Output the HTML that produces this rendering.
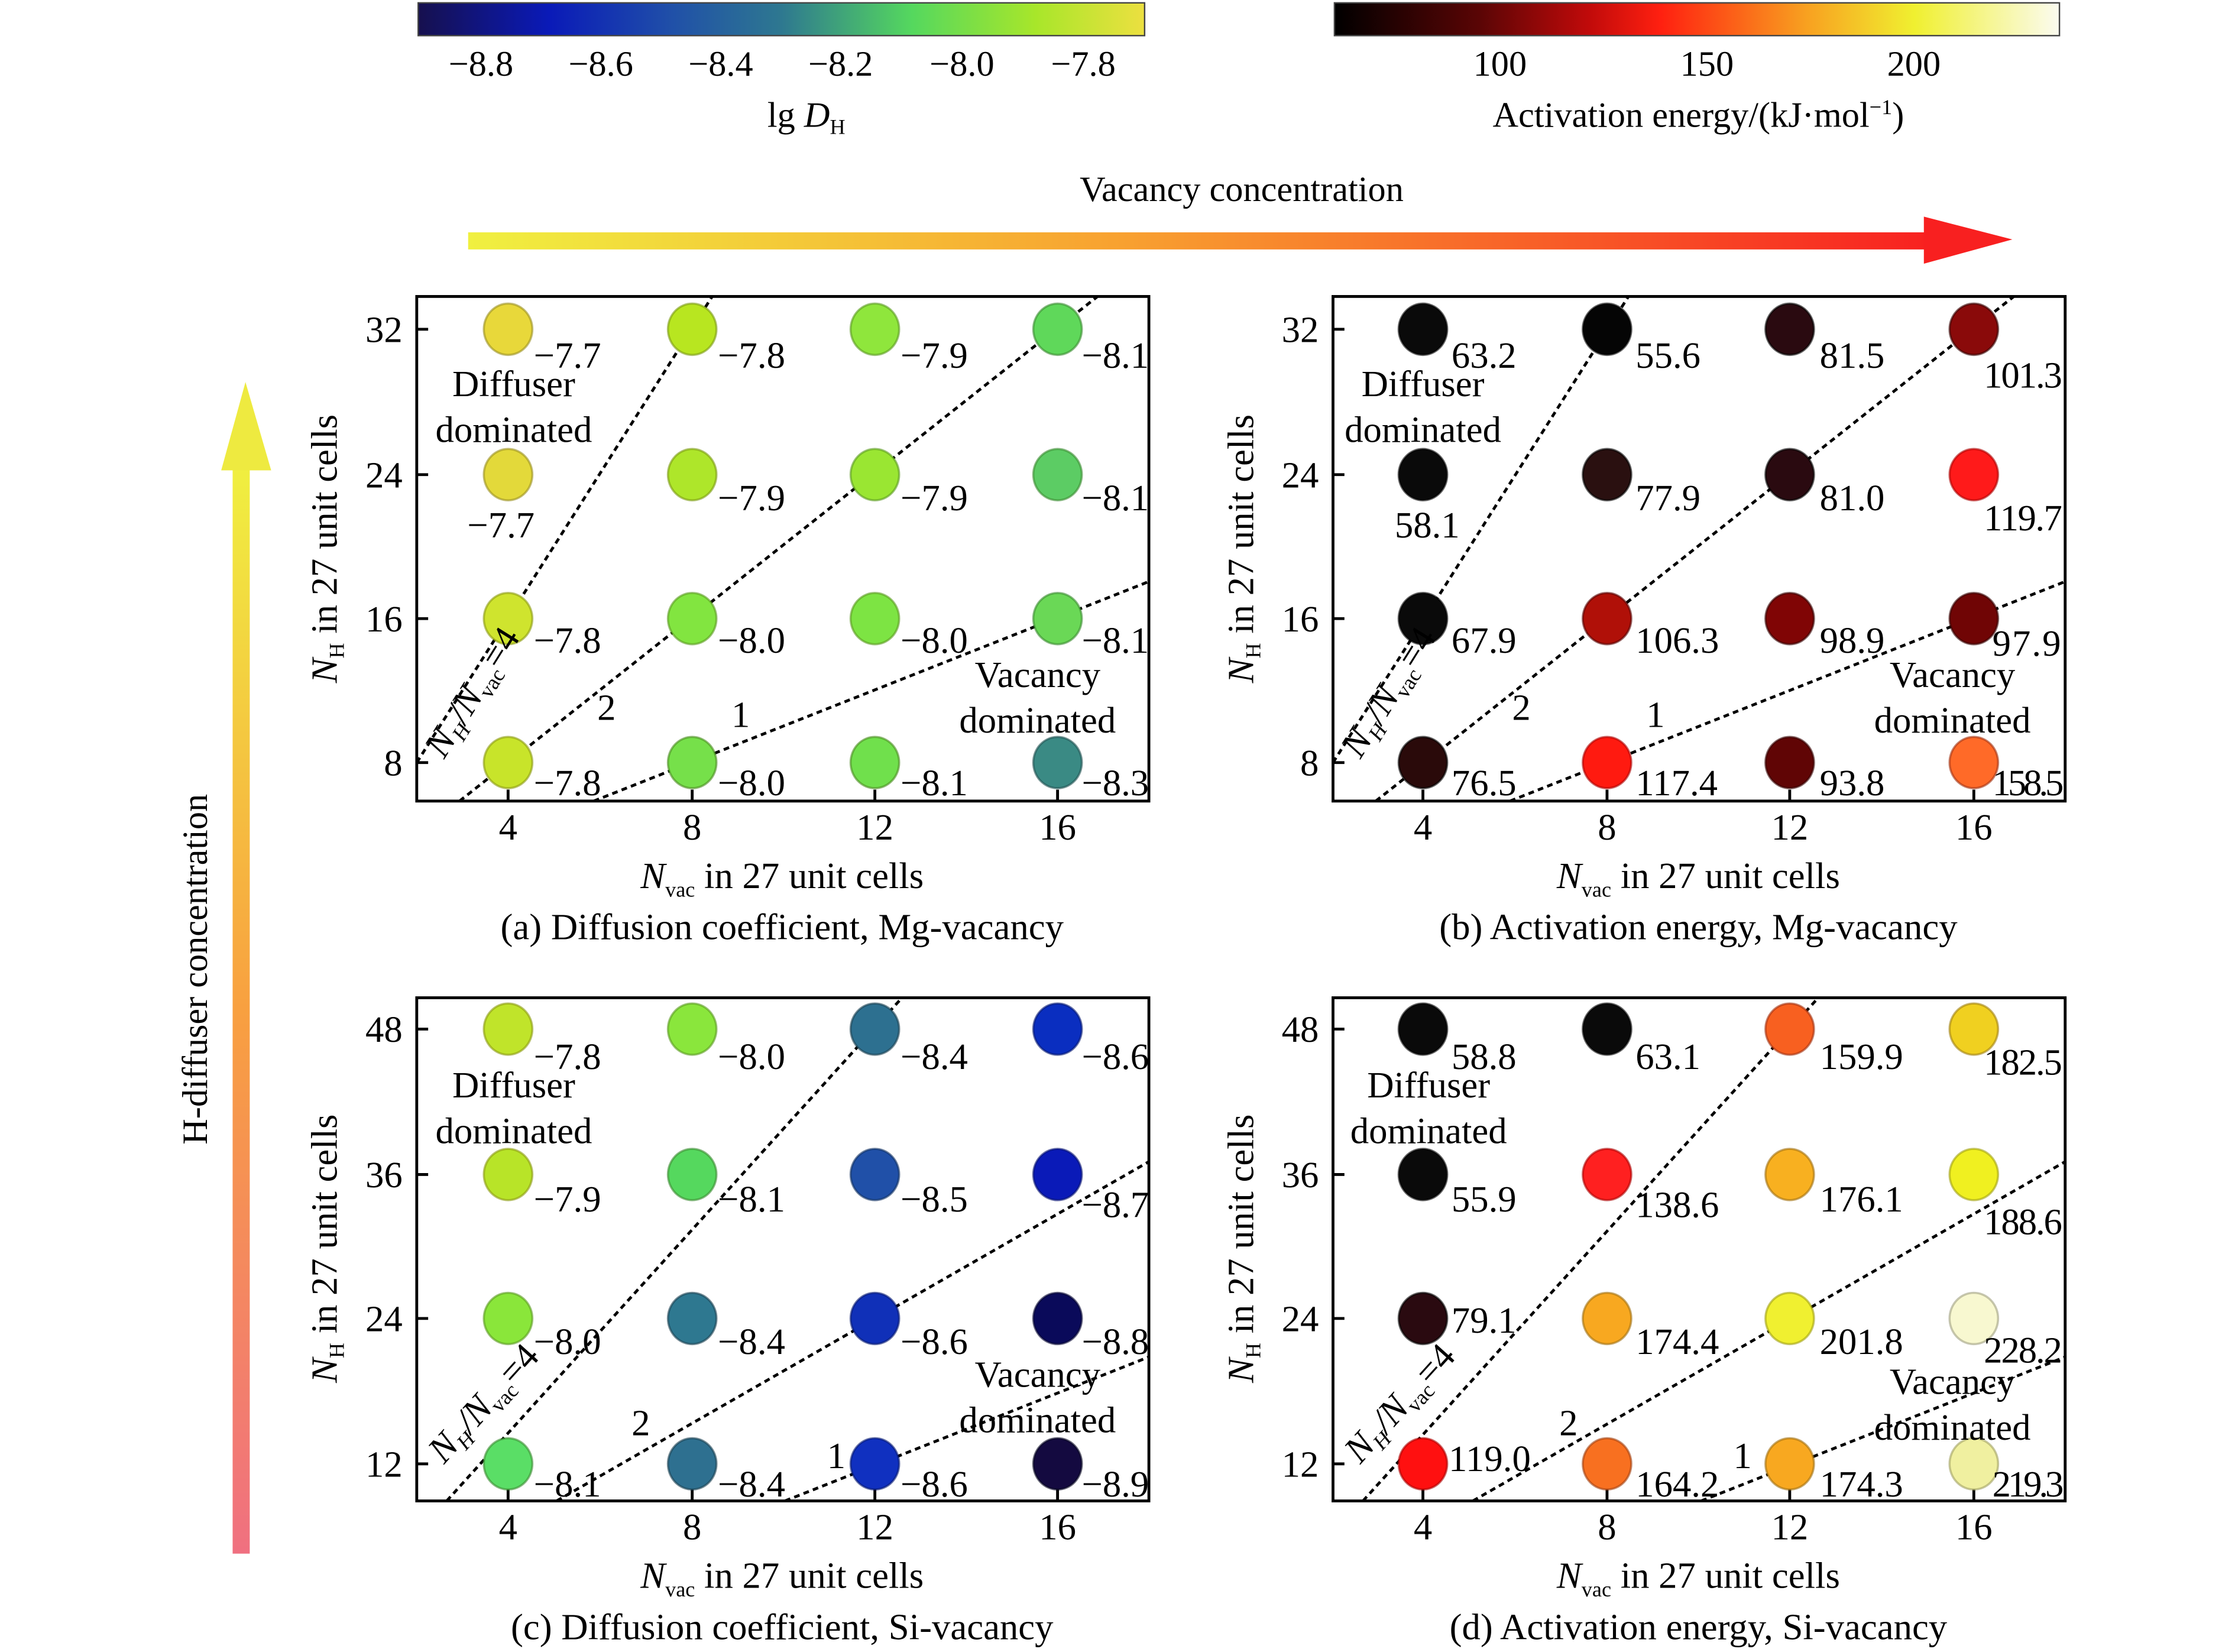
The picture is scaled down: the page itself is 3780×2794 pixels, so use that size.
<!DOCTYPE html>
<html><head><meta charset="utf-8"><style>
html,body{margin:0;padding:0;background:#fff;}
svg{display:block;}
text{font-family:"Liberation Serif",serif;fill:#000;}
</style></head><body>
<svg width="3780" height="2794" viewBox="0 0 1566 1159" preserveAspectRatio="none" xmlns="http://www.w3.org/2000/svg">
<defs>
<linearGradient id="cb1" x1="0" x2="1" y1="0" y2="0">
<stop offset="0" stop-color="#16104e"/><stop offset="0.18" stop-color="#0a1ab8"/><stop offset="0.35" stop-color="#2050a8"/><stop offset="0.5" stop-color="#2e7890"/><stop offset="0.68" stop-color="#55d85e"/><stop offset="0.85" stop-color="#a8e62a"/><stop offset="1" stop-color="#ece040"/>
</linearGradient>
<linearGradient id="cb2" x1="0" x2="1" y1="0" y2="0">
<stop offset="0" stop-color="#000"/><stop offset="0.2" stop-color="#5a0505"/><stop offset="0.35" stop-color="#c00a0a"/><stop offset="0.45" stop-color="#ff2010"/><stop offset="0.65" stop-color="#f8a020"/><stop offset="0.8" stop-color="#f0f030"/><stop offset="1" stop-color="#fbfbf0"/>
</linearGradient>
<linearGradient id="ah" x1="0" x2="1" y1="0" y2="0">
<stop offset="0" stop-color="#f0f040"/><stop offset="0.45" stop-color="#f8a030"/><stop offset="1" stop-color="#f82020"/>
</linearGradient>
<linearGradient id="av" x1="0" x2="0" y1="1" y2="0">
<stop offset="0" stop-color="#f07080"/><stop offset="0.5" stop-color="#f8a040"/><stop offset="1" stop-color="#f0f040"/>
</linearGradient>
<clipPath id="ca"><rect x="292" y="208" width="513" height="354"/></clipPath>
<clipPath id="cb"><rect x="934" y="208" width="513" height="354"/></clipPath>
<clipPath id="cc"><rect x="292" y="700" width="513" height="353"/></clipPath>
<clipPath id="cd"><rect x="934" y="700" width="513" height="353"/></clipPath>
</defs>

<rect x="293" y="2" width="509" height="23" fill="url(#cb1)" stroke="#444" stroke-width="1"/>
<g font-size="25" text-anchor="middle">
<text x="337" y="53">−8.8</text><text x="421" y="53">−8.6</text><text x="505" y="53">−8.4</text><text x="589" y="53">−8.2</text><text x="674" y="53">−8.0</text><text x="759" y="53">−7.8</text>
<text x="565" y="89">lg <tspan font-style="italic">D</tspan><tspan font-size="15" dy="5">H</tspan></text>
</g>
<rect x="935" y="2" width="508" height="23" fill="url(#cb2)" stroke="#444" stroke-width="1"/>
<g font-size="25" text-anchor="middle">
<text x="1051" y="53">100</text><text x="1196" y="53">150</text><text x="1341" y="53">200</text>
<text x="1190" y="89">Activation energy/(kJ·mol<tspan font-size="15" dy="-9">−1</tspan><tspan dy="9">)</tspan></text>
</g>

<text x="870" y="141" font-size="25" text-anchor="middle">Vacancy concentration</text>
<rect x="328" y="163" width="1030" height="12" fill="url(#ah)"/>
<polygon points="1348,152 1410,168 1348,185" fill="#f82020"/>
<rect x="163" y="325" width="12" height="765" fill="url(#av)"/>
<polygon points="155,330 172,268 190,330" fill="#eeea40"/>
<text transform="translate(145,680) rotate(-90)" font-size="25" text-anchor="middle">H-diffuser concentration</text>

<g fill="none" stroke="#000" stroke-width="2">
<rect x="292" y="208" width="513" height="354"/>
<rect x="934" y="208" width="513" height="354"/>
<rect x="292" y="700" width="513" height="353"/>
<rect x="934" y="700" width="513" height="353"/>
</g>
<g stroke="#000" stroke-width="2">
<path d="M356 562v-8M485 562v-8M613 562v-8M741 562v-8M997 562v-8M1126 562v-8M1254 562v-8M1383 562v-8"/>
<path d="M356 1053v-8M485 1053v-8M613 1053v-8M741 1053v-8M997 1053v-8M1126 1053v-8M1254 1053v-8M1383 1053v-8"/>
<path d="M292 231h8M292 333h8M292 434h8M292 535h8M934 231h8M934 333h8M934 434h8M934 535h8"/>
<path d="M292 722h8M292 824h8M292 925h8M292 1027h8M934 722h8M934 824h8M934 925h8M934 1027h8"/>
</g>

<g fill="none" stroke="#000" stroke-width="2" stroke-dasharray="4,3">
<g clip-path="url(#ca)"><path d="M292 535L499 208M322 562L769 208M416 562L805 408"/></g>
<g clip-path="url(#cb)"><path d="M934 535L1141 208M964 562L1411 208M1058 562L1447 408"/></g>
<g clip-path="url(#cc)"><path d="M313 1053L632 700M390 1053L805 815M550 1053L805 952"/></g>
<g clip-path="url(#cd)"><path d="M955 1053L1274 700M1032 1053L1447 815M1192 1053L1447 952"/></g>
</g>

<g stroke-width="1.5" stroke-opacity="0.6">
<ellipse cx="356" cy="231" rx="17" ry="18" fill="#e8d83a" stroke="#9a9020"/>
<ellipse cx="485" cy="231" rx="17" ry="18" fill="#b8e620" stroke="#7a9a10"/>
<ellipse cx="613" cy="231" rx="17" ry="18" fill="#8fe63c" stroke="#5a9a20"/>
<ellipse cx="741" cy="231" rx="17" ry="18" fill="#5fd85a" stroke="#3a8a30"/>
<ellipse cx="356" cy="333" rx="17" ry="18" fill="#e3d93a" stroke="#9a9020"/>
<ellipse cx="485" cy="333" rx="17" ry="18" fill="#aee62a" stroke="#7a9a10"/>
<ellipse cx="613" cy="333" rx="17" ry="18" fill="#9ae632" stroke="#5a9a20"/>
<ellipse cx="741" cy="333" rx="17" ry="18" fill="#5ccc64" stroke="#3a8a30"/>
<ellipse cx="356" cy="434" rx="17" ry="18" fill="#cfe42e" stroke="#8a9a10"/>
<ellipse cx="485" cy="434" rx="17" ry="18" fill="#82e540" stroke="#5a9a20"/>
<ellipse cx="613" cy="434" rx="17" ry="18" fill="#7de443" stroke="#5a9a20"/>
<ellipse cx="741" cy="434" rx="17" ry="18" fill="#6ad856" stroke="#3a8a30"/>
<ellipse cx="356" cy="535" rx="17" ry="18" fill="#c8e42a" stroke="#8a9a10"/>
<ellipse cx="485" cy="535" rx="17" ry="18" fill="#76e04a" stroke="#4a8a20"/>
<ellipse cx="613" cy="535" rx="17" ry="18" fill="#70e04c" stroke="#4a8a20"/>
<ellipse cx="741" cy="535" rx="17" ry="18" fill="#3a8a84" stroke="#205050"/>
<ellipse cx="997" cy="231" rx="17" ry="18" fill="#0a0a0a" stroke="#000"/>
<ellipse cx="1126" cy="231" rx="17" ry="18" fill="#050505" stroke="#000"/>
<ellipse cx="1254" cy="231" rx="17" ry="18" fill="#2a0a10" stroke="#000"/>
<ellipse cx="1383" cy="231" rx="17" ry="18" fill="#8a0a0a" stroke="#300"/>
<ellipse cx="997" cy="333" rx="17" ry="18" fill="#0a0a0a" stroke="#000"/>
<ellipse cx="1126" cy="333" rx="17" ry="18" fill="#2a1010" stroke="#000"/>
<ellipse cx="1254" cy="333" rx="17" ry="18" fill="#2a0a10" stroke="#000"/>
<ellipse cx="1383" cy="333" rx="17" ry="18" fill="#ff1a1a" stroke="#a00"/>
<ellipse cx="997" cy="434" rx="17" ry="18" fill="#0a0a0a" stroke="#000"/>
<ellipse cx="1126" cy="434" rx="17" ry="18" fill="#b01008" stroke="#500"/>
<ellipse cx="1254" cy="434" rx="17" ry="18" fill="#800505" stroke="#300"/>
<ellipse cx="1383" cy="434" rx="17" ry="18" fill="#700505" stroke="#300"/>
<ellipse cx="997" cy="535" rx="17" ry="18" fill="#2a0a0a" stroke="#000"/>
<ellipse cx="1126" cy="535" rx="17" ry="18" fill="#ff1a10" stroke="#a00"/>
<ellipse cx="1254" cy="535" rx="17" ry="18" fill="#600505" stroke="#300"/>
<ellipse cx="1383" cy="535" rx="17" ry="18" fill="#ff6a28" stroke="#a03010"/>
<ellipse cx="356" cy="722" rx="17" ry="18" fill="#c0e42a" stroke="#8a9a10"/>
<ellipse cx="485" cy="722" rx="17" ry="18" fill="#8ae63c" stroke="#5a9a20"/>
<ellipse cx="613" cy="722" rx="17" ry="18" fill="#2d7090" stroke="#1a4050"/>
<ellipse cx="741" cy="722" rx="17" ry="18" fill="#0a2ec0" stroke="#051870"/>
<ellipse cx="356" cy="824" rx="17" ry="18" fill="#b8e428" stroke="#8a9a10"/>
<ellipse cx="485" cy="824" rx="17" ry="18" fill="#55d85e" stroke="#3a8a30"/>
<ellipse cx="613" cy="824" rx="17" ry="18" fill="#2050a8" stroke="#103060"/>
<ellipse cx="741" cy="824" rx="17" ry="18" fill="#0a1ab8" stroke="#051070"/>
<ellipse cx="356" cy="925" rx="17" ry="18" fill="#8ae63a" stroke="#5a9a20"/>
<ellipse cx="485" cy="925" rx="17" ry="18" fill="#2e7890" stroke="#1a4050"/>
<ellipse cx="613" cy="925" rx="17" ry="18" fill="#1030b8" stroke="#051870"/>
<ellipse cx="741" cy="925" rx="17" ry="18" fill="#0a0a5a" stroke="#050530"/>
<ellipse cx="356" cy="1027" rx="17" ry="18" fill="#5ade66" stroke="#3a8a30"/>
<ellipse cx="485" cy="1027" rx="17" ry="18" fill="#2e7090" stroke="#1a4050"/>
<ellipse cx="613" cy="1027" rx="17" ry="18" fill="#1030c0" stroke="#051870"/>
<ellipse cx="741" cy="1027" rx="17" ry="18" fill="#140a40" stroke="#050520"/>
<ellipse cx="997" cy="722" rx="17" ry="18" fill="#0a0a0a" stroke="#000"/>
<ellipse cx="1126" cy="722" rx="17" ry="18" fill="#0a0a0a" stroke="#000"/>
<ellipse cx="1254" cy="722" rx="17" ry="18" fill="#f86020" stroke="#a03010"/>
<ellipse cx="1383" cy="722" rx="17" ry="18" fill="#f0d020" stroke="#a08010"/>
<ellipse cx="997" cy="824" rx="17" ry="18" fill="#0a0a0a" stroke="#000"/>
<ellipse cx="1126" cy="824" rx="17" ry="18" fill="#ff2020" stroke="#a00"/>
<ellipse cx="1254" cy="824" rx="17" ry="18" fill="#f8b020" stroke="#a07010"/>
<ellipse cx="1383" cy="824" rx="17" ry="18" fill="#f0f020" stroke="#a0a010"/>
<ellipse cx="997" cy="925" rx="17" ry="18" fill="#2a0a10" stroke="#000"/>
<ellipse cx="1126" cy="925" rx="17" ry="18" fill="#f8a820" stroke="#a07010"/>
<ellipse cx="1254" cy="925" rx="17" ry="18" fill="#f0f030" stroke="#a0a010"/>
<ellipse cx="1383" cy="925" rx="17" ry="18" fill="#f8f8d0" stroke="#a0a080"/>
<ellipse cx="997" cy="1027" rx="17" ry="18" fill="#ff1010" stroke="#a00"/>
<ellipse cx="1126" cy="1027" rx="17" ry="18" fill="#f87020" stroke="#a04010"/>
<ellipse cx="1254" cy="1027" rx="17" ry="18" fill="#f8a820" stroke="#a07010"/>
<ellipse cx="1383" cy="1027" rx="17" ry="18" fill="#f0f0a0" stroke="#a0a060"/>
</g>

<g font-size="26">
<g text-anchor="middle">
<text x="356" y="589">4</text><text x="485" y="589">8</text><text x="613" y="589">12</text><text x="741" y="589">16</text>
<text x="997" y="589">4</text><text x="1126" y="589">8</text><text x="1254" y="589">12</text><text x="1383" y="589">16</text>
<text x="356" y="1080">4</text><text x="485" y="1080">8</text><text x="613" y="1080">12</text><text x="741" y="1080">16</text>
<text x="997" y="1080">4</text><text x="1126" y="1080">8</text><text x="1254" y="1080">12</text><text x="1383" y="1080">16</text>
</g>
<g text-anchor="end">
<text x="282" y="240">32</text><text x="282" y="342">24</text><text x="282" y="443">16</text><text x="282" y="544">8</text>
<text x="924" y="240">32</text><text x="924" y="342">24</text><text x="924" y="443">16</text><text x="924" y="544">8</text>
<text x="282" y="731">48</text><text x="282" y="833">36</text><text x="282" y="934">24</text><text x="282" y="1036">12</text>
<text x="924" y="731">48</text><text x="924" y="833">36</text><text x="924" y="934">24</text><text x="924" y="1036">12</text>
</g>
<g text-anchor="middle">
<text transform="translate(236,385) rotate(-90)"><tspan font-style="italic">N</tspan><tspan font-size="15" dy="5">H</tspan><tspan dy="-5"> in 27 unit cells</tspan></text>
<text transform="translate(878,385) rotate(-90)"><tspan font-style="italic">N</tspan><tspan font-size="15" dy="5">H</tspan><tspan dy="-5"> in 27 unit cells</tspan></text>
<text transform="translate(236,876) rotate(-90)"><tspan font-style="italic">N</tspan><tspan font-size="15" dy="5">H</tspan><tspan dy="-5"> in 27 unit cells</tspan></text>
<text transform="translate(878,876) rotate(-90)"><tspan font-style="italic">N</tspan><tspan font-size="15" dy="5">H</tspan><tspan dy="-5"> in 27 unit cells</tspan></text>
<text x="548" y="623"><tspan font-style="italic">N</tspan><tspan font-size="15" dy="6">vac</tspan><tspan dy="-6"> in 27 unit cells</tspan></text>
<text x="1190" y="623"><tspan font-style="italic">N</tspan><tspan font-size="15" dy="6">vac</tspan><tspan dy="-6"> in 27 unit cells</tspan></text>
<text x="548" y="1114"><tspan font-style="italic">N</tspan><tspan font-size="15" dy="6">vac</tspan><tspan dy="-6"> in 27 unit cells</tspan></text>
<text x="1190" y="1114"><tspan font-style="italic">N</tspan><tspan font-size="15" dy="6">vac</tspan><tspan dy="-6"> in 27 unit cells</tspan></text>
<text x="548" y="659">(a) Diffusion coefficient, Mg-vacancy</text>
<text x="1190" y="659">(b) Activation energy, Mg-vacancy</text>
<text x="548" y="1150">(c) Diffusion coefficient, Si-vacancy</text>
<text x="1190" y="1150">(d) Activation energy, Si-vacancy</text>
<text x="360" y="278">Diffuser</text><text x="360" y="310">dominated</text>
<text x="997" y="278">Diffuser</text><text x="997" y="310">dominated</text>
<text x="360" y="770">Diffuser</text><text x="360" y="802">dominated</text>
<text x="1001" y="770">Diffuser</text><text x="1001" y="802">dominated</text>
<text x="727" y="482">Vacancy</text><text x="727" y="514">dominated</text>
<text x="1368" y="482">Vacancy</text><text x="1368" y="514">dominated</text>
<text x="727" y="973">Vacancy</text><text x="727" y="1005">dominated</text>
<text x="1368" y="978">Vacancy</text><text x="1368" y="1010">dominated</text>
<text x="425" y="505">2</text><text x="519" y="510">1</text>
<text x="1066" y="505">2</text><text x="1160" y="510">1</text>
<text x="449" y="1007">2</text><text x="586" y="1030">1</text>
<text x="1099" y="1007">2</text><text x="1221" y="1030">1</text>
<text transform="translate(338,490) rotate(-58)"><tspan font-style="italic">N</tspan><tspan font-size="15" font-style="italic" dy="5">H</tspan><tspan font-style="italic" dy="-5">/N</tspan><tspan font-size="15" dy="5">vac</tspan><tspan dy="-5">=4</tspan></text>
<text transform="translate(980,490) rotate(-58)"><tspan font-style="italic">N</tspan><tspan font-size="15" font-style="italic" dy="5">H</tspan><tspan font-style="italic" dy="-5">/N</tspan><tspan font-size="15" dy="5">vac</tspan><tspan dy="-5">=4</tspan></text>
<text transform="translate(345,990) rotate(-48)"><tspan font-style="italic">N</tspan><tspan font-size="15" font-style="italic" dy="5">H</tspan><tspan font-style="italic" dy="-5">/N</tspan><tspan font-size="15" dy="5">vac</tspan><tspan dy="-5">=4</tspan></text>
<text transform="translate(987,990) rotate(-48)"><tspan font-style="italic">N</tspan><tspan font-size="15" font-style="italic" dy="5">H</tspan><tspan font-style="italic" dy="-5">/N</tspan><tspan font-size="15" dy="5">vac</tspan><tspan dy="-5">=4</tspan></text>
<text x="351" y="377">−7.7</text>
<text x="1000" y="377">58.1</text>
</g>
<text x="374" y="258">−7.7</text><text x="503" y="258">−7.8</text><text x="631" y="258">−7.9</text><text x="758" y="258" textLength="47">−8.1</text>
<text x="503" y="358">−7.9</text><text x="631" y="358">−7.9</text><text x="758" y="358" textLength="47">−8.1</text>
<text x="374" y="458">−7.8</text><text x="503" y="458">−8.0</text><text x="631" y="458">−8.0</text><text x="758" y="458" textLength="47">−8.1</text>
<text x="374" y="558">−7.8</text><text x="503" y="558">−8.0</text><text x="631" y="558">−8.1</text><text x="758" y="558" textLength="47">−8.3</text>
<text x="1017" y="258">63.2</text><text x="1146" y="258">55.6</text><text x="1275" y="258">81.5</text><text x="1390" y="272" textLength="55">101.3</text>
<text x="1146" y="358">77.9</text><text x="1275" y="358">81.0</text><text x="1390" y="372" textLength="55">119.7</text>
<text x="1017" y="458">67.9</text><text x="1146" y="458">106.3</text><text x="1275" y="458">98.9</text><text x="1396" y="460" textLength="48">97.9</text>
<text x="1017" y="558">76.5</text><text x="1146" y="558">117.4</text><text x="1275" y="558">93.8</text><text x="1396" y="558" textLength="50">158.5</text>
<text x="374" y="750">−7.8</text><text x="503" y="750">−8.0</text><text x="631" y="750">−8.4</text><text x="758" y="750" textLength="47">−8.6</text>
<text x="374" y="850">−7.9</text><text x="503" y="850">−8.1</text><text x="631" y="850">−8.5</text><text x="758" y="854" textLength="47">−8.7</text>
<text x="374" y="950">−8.0</text><text x="503" y="950">−8.4</text><text x="631" y="950">−8.6</text><text x="758" y="950" textLength="47">−8.8</text>
<text x="374" y="1050">−8.1</text><text x="503" y="1050">−8.4</text><text x="631" y="1050">−8.6</text><text x="758" y="1050" textLength="47">−8.9</text>
<text x="1017" y="750">58.8</text><text x="1146" y="750">63.1</text><text x="1275" y="750">159.9</text><text x="1390" y="754" textLength="55">182.5</text>
<text x="1017" y="850">55.9</text><text x="1146" y="854">138.6</text><text x="1275" y="850">176.1</text><text x="1390" y="866" textLength="55">188.6</text>
<text x="1017" y="935">79.1</text><text x="1146" y="950">174.4</text><text x="1275" y="950">201.8</text><text x="1390" y="956" textLength="55">228.2</text>
<text x="1015" y="1032">119.0</text><text x="1146" y="1050">164.2</text><text x="1275" y="1050">174.3</text><text x="1396" y="1050" textLength="50">219.3</text>
</g>
</svg>
</body></html>
